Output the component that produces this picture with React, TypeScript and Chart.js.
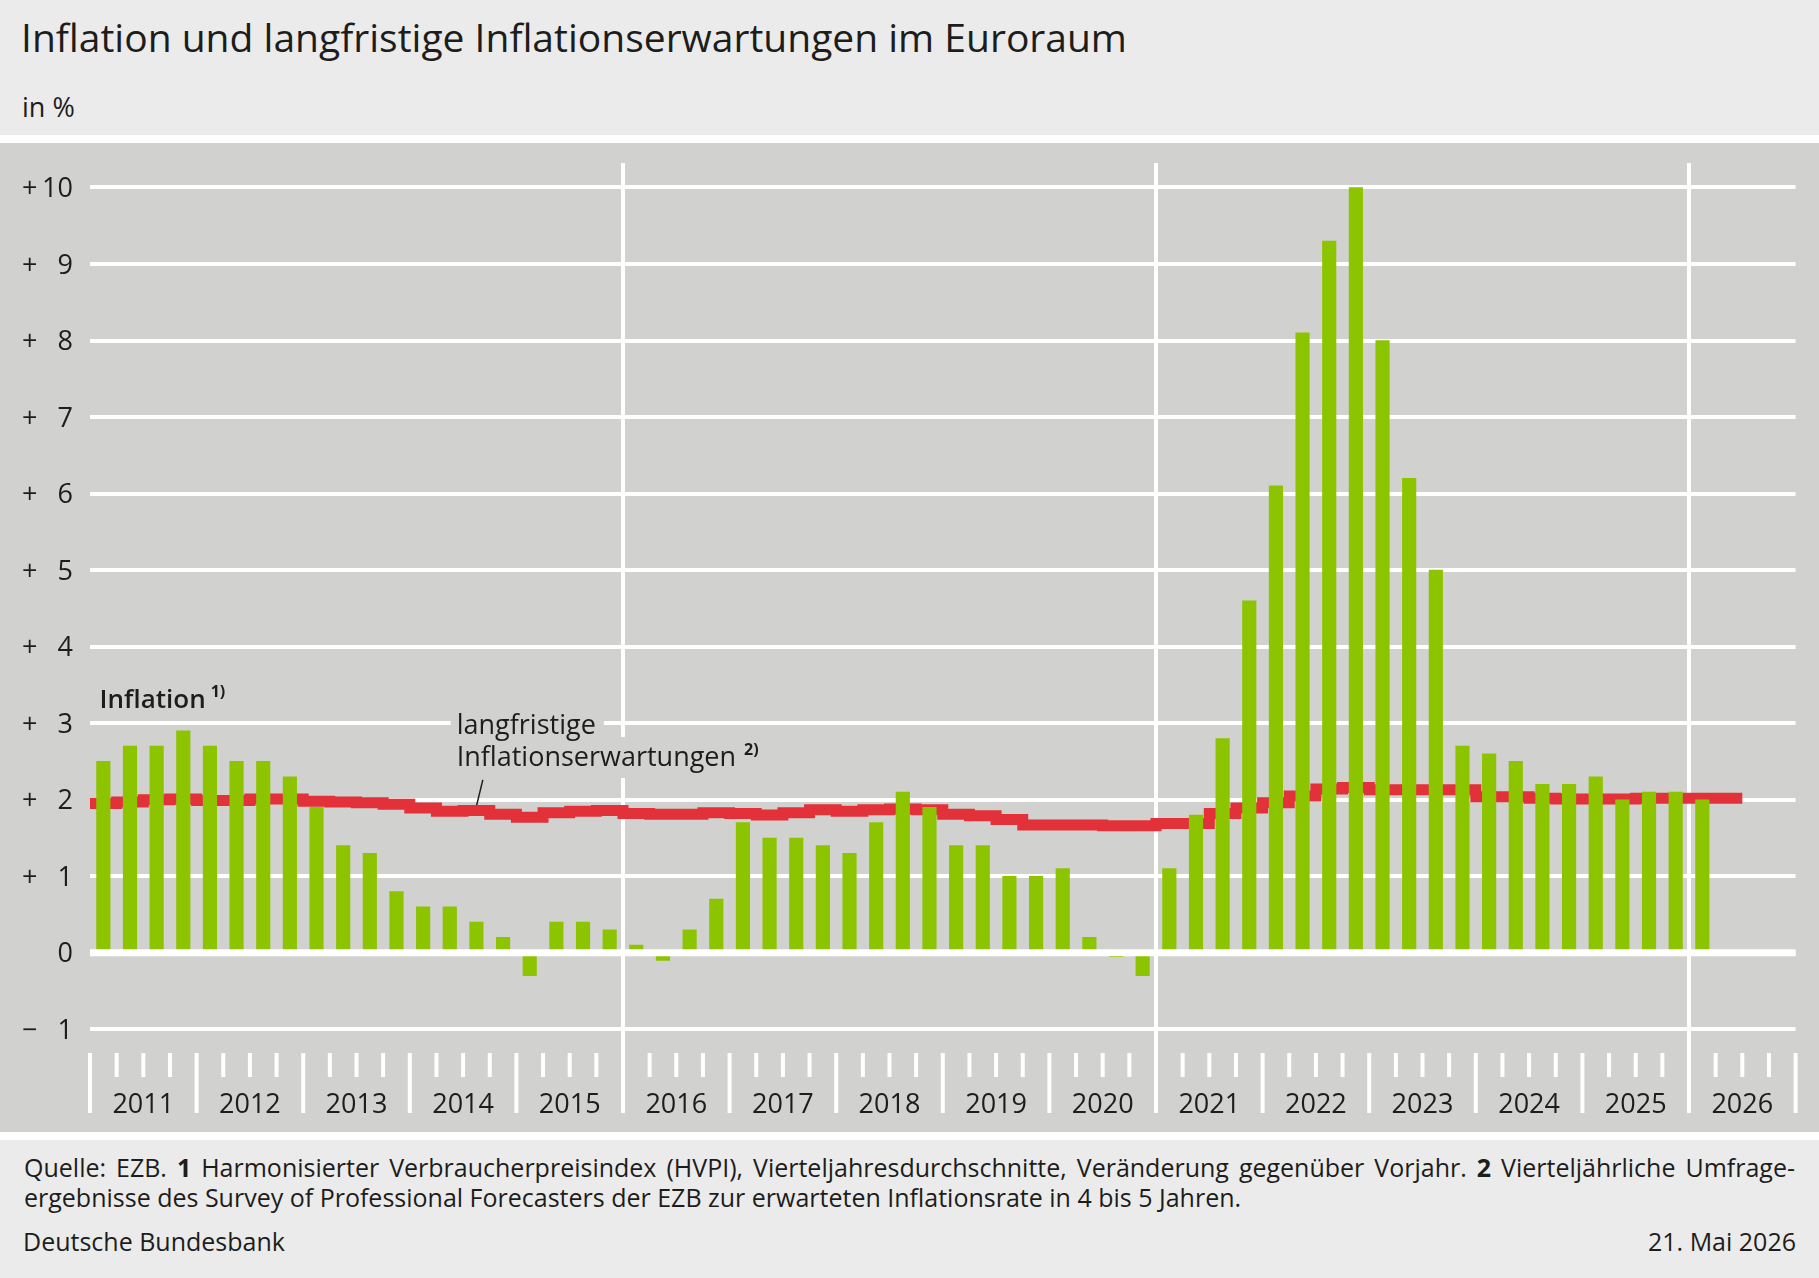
import React, { useEffect, useRef } from 'react';
import { Chart, registerables } from 'chart.js';

Chart.register(...registerables);

// ---------- data ----------
const years = ['2011', '2012', '2013', '2014', '2015', '2016', '2017', '2018', '2019', '2020', '2021', '2022', '2023', '2024', '2025', '2026'];

// HVPI, quarterly averages, yoy change in % (2011 Q1 – 2026 Q1)
const inflation = [
  2.5, 2.7, 2.7, 2.9,
  2.7, 2.5, 2.5, 2.3,
  1.9, 1.4, 1.3, 0.8,
  0.6, 0.6, 0.4, 0.2,
  -0.3, 0.4, 0.4, 0.3,
  0.1, -0.1, 0.3, 0.7,
  1.7, 1.5, 1.5, 1.4,
  1.3, 1.7, 2.1, 1.9,
  1.4, 1.4, 1.0, 1.0,
  1.1, 0.2, -0.05, -0.3,
  1.1, 1.8, 2.8, 4.6,
  6.1, 8.1, 9.3, 10.0,
  8.0, 6.2, 5.0, 2.7,
  2.6, 2.5, 2.2, 2.2,
  2.3, 2.0, 2.1, 2.1,
  2.0,
];

// SPF long-term inflation expectations (2011 Q1 – 2026 Q2)
const expectations = [
  1.95, 1.97, 2.0, 2.01,
  1.99, 1.99, 2.01, 2.01,
  1.98, 1.97, 1.96, 1.94,
  1.89, 1.85, 1.86, 1.81,
  1.77, 1.83, 1.85, 1.86,
  1.82, 1.81, 1.81, 1.83,
  1.82, 1.8, 1.83, 1.87,
  1.85, 1.87, 1.88, 1.87,
  1.81, 1.79, 1.74, 1.67,
  1.67, 1.67, 1.66, 1.66,
  1.69, 1.69, 1.82, 1.89,
  1.96, 2.05, 2.14, 2.16,
  2.13, 2.13, 2.13, 2.13,
  2.04, 2.04, 2.02, 2.01,
  2.01, 2.01, 2.02, 2.02,
  2.02, 2.02,
];

const yTicks = [10, 9, 8, 7, 6, 5, 4, 3, 2, 1, 0, -1];
const majorYears = ['2016', '2021', '2026'];

const TITLE = 'Inflation und langfristige Inflationserwartungen im Euroraum';
const SUBTITLE = 'in %';
const LABEL_INFLATION = 'Inflation';
const LABEL_EXP_1 = 'langfristige';
const LABEL_EXP_2 = 'Inflationserwartungen';
const SOURCE_DATE = '21. Mai 2026';
const PUBLISHER = 'Deutsche Bundesbank';

// ---------- style ----------
const HEADER_BG = '#EBEBEB';
const PANEL_BG = '#D1D1CF';
const GREEN = '#8DC400';
const RED = '#E3313A';
const TEXT = '#1D1D1B';
const FONT = '"Open Sans", "Noto Sans", sans-serif';
const AXIS_FS = 27;
const FOOT_FS = 25;

const Q = years.length * 4; // quarters on x axis

const decorPlugin = {
  id: 'decor',
  beforeDatasetsDraw(chart: any) {
    const { ctx, chartArea, scales } = chart;
    const x = scales.x;
    const bottom = chartArea.bottom;
    ctx.save();
    ctx.fillStyle = '#FFFFFF';
    for (let k = 0; k <= Q; k++) {
      const px = x.getPixelForValue(k);
      const isYear = k % 4 === 0;
      const top = bottom + 13;
      const end = isYear ? bottom + 73 : bottom + 37;
      ctx.fillRect(px - 2, top, 4, end - top);
    }
    majorYears.forEach((yr) => {
      const k = (parseInt(yr, 10) - parseInt(years[0], 10)) * 4;
      const px = x.getPixelForValue(k);
      ctx.fillRect(px - 2, chartArea.top, 4, bottom + 73 - chartArea.top);
    });
    ctx.restore();
  },
  afterDatasetsDraw(chart: any) {
    const { ctx, chartArea, scales } = chart;
    const x = scales.x;
    const y = scales.y;
    ctx.save();
    const y0 = y.getPixelForValue(0);
    ctx.fillStyle = '#FFFFFF';
    ctx.fillRect(chartArea.left, y0 - 3.5, chartArea.right - chartArea.left, 7);

    ctx.fillStyle = TEXT;
    ctx.textBaseline = 'alphabetic';

    ctx.font = `${AXIS_FS}px ${FONT}`;
    yTicks.forEach((v) => {
      const py = y.getPixelForValue(v) + 9.6;
      if (v !== 0) {
        ctx.textAlign = 'left';
        ctx.fillText(v > 0 ? '+' : '\u2212', 22, py);
      }
      ctx.textAlign = 'right';
      ctx.fillText(String(Math.abs(v)), 73, py);
    });

    ctx.textAlign = 'center';
    years.forEach((yr, i) => {
      const px = x.getPixelForValue(i * 4 + 2);
      ctx.fillText(yr, px, chartArea.bottom + 72.7);
    });

    ctx.textAlign = 'left';
    const ix = x.getPixelForValue(0.36);
    const iy = y.getPixelForValue(3.2);
    ctx.font = `600 ${AXIS_FS - 1}px ${FONT}`;
    ctx.fillText(LABEL_INFLATION, ix, iy);
    const iw = ctx.measureText(LABEL_INFLATION).width;
    ctx.font = `bold 16px ${FONT}`;
    ctx.fillText('1)', ix + iw + 5, iy - 11);

    const lx = x.getPixelForValue(13.76);
    const ly1 = y.getPixelForValue(2.86);
    const ly2 = y.getPixelForValue(2.44);
    ctx.font = `${AXIS_FS}px ${FONT}`;
    const w1 = ctx.measureText(LABEL_EXP_1).width;
    const w2 = ctx.measureText(LABEL_EXP_2).width;
    ctx.fillStyle = PANEL_BG;
    ctx.fillRect(lx - 6, ly1 - 31, w1 + 14, ly2 - 29 - (ly1 - 31) + 1);
    ctx.fillRect(lx - 6, ly2 - 29, w2 + 34, 41);
    ctx.fillStyle = TEXT;
    ctx.fillText(LABEL_EXP_1, lx, ly1);
    ctx.fillText(LABEL_EXP_2, lx, ly2);
    ctx.font = `bold 16px ${FONT}`;
    ctx.fillText('2)', lx + w2 + 8, ly2 - 11);

    ctx.strokeStyle = TEXT;
    ctx.lineWidth = 1.5;
    ctx.beginPath();
    ctx.moveTo(x.getPixelForValue(14.74), y.getPixelForValue(2.26));
    ctx.lineTo(x.getPixelForValue(14.51), y.getPixelForValue(1.93));
    ctx.stroke();
    ctx.restore();
  },
};

export default function App() {
  const ref = useRef<HTMLCanvasElement>(null);

  useEffect(() => {
    document.body.style.margin = '0';
    const barData = inflation.map((v, i) => ({ x: i + 0.5, y: v }));
    const lineData = expectations
      .map((v, i) => ({ x: i, y: v }))
      .concat([{ x: expectations.length, y: expectations[expectations.length - 1] }]);

    const chart = new Chart(ref.current as HTMLCanvasElement, {
      type: 'bar',
      data: {
        datasets: [
          {
            type: 'bar',
            label: 'Inflation',
            data: barData as any,
            backgroundColor: GREEN,
            borderWidth: 0,
            barThickness: 13.5,
            order: 1,
          },
          {
            type: 'line',
            label: 'langfristige Inflationserwartungen',
            data: lineData as any,
            borderColor: RED,
            borderWidth: 11,
            stepped: true,
            pointRadius: 0,
            fill: false,
            borderJoinStyle: 'miter',
            borderCapStyle: 'butt',
            order: 2,
          },
        ],
      } as any,
      options: {
        animation: false,
        responsive: false,
        devicePixelRatio: 1,
        layout: { padding: { left: 90, right: 23.4, top: 20, bottom: 92 } },
        plugins: {
          legend: { display: false },
          tooltip: { enabled: false },
        },
        scales: {
          x: {
            type: 'linear',
            min: 0,
            max: Q,
            offset: false,
            display: false,
          },
          y: {
            type: 'linear',
            min: -1.14,
            max: 10.32,
            afterBuildTicks: (scale: any) => {
              scale.ticks = yTicks.map((v) => ({ value: v }));
            },
            grid: { color: '#FFFFFF', lineWidth: 4, drawTicks: false },
            border: { display: false },
            ticks: { display: false },
          },
        },
      } as any,
      plugins: [decorPlugin],
    });
    return () => chart.destroy();
  }, []);

  const abs = (s: React.CSSProperties): React.CSSProperties => ({ position: 'absolute', whiteSpace: 'nowrap', ...s });

  return (
    <div style={{ position: 'relative', width: 1819, height: 1278, background: '#FFFFFF', fontFamily: FONT, color: TEXT, overflow: 'hidden' }}>
      <div style={abs({ left: 0, top: 0, width: 1819, height: 135, background: HEADER_BG })} />
      <div style={abs({ left: 21, top: 17.1, fontSize: 39, fontWeight: 500, lineHeight: '39px' })}>{TITLE}</div>
      <div style={abs({ left: 22, top: 93, fontSize: 27, lineHeight: '27px' })}>{SUBTITLE}</div>
      <div style={abs({ left: 0, top: 143, width: 1819, height: 989, background: PANEL_BG })}>
        <canvas ref={ref} width={1819} height={989} style={{ display: 'block', width: 1819, height: 989 }} />
      </div>
      <div style={abs({ left: 0, top: 1140, width: 1819, height: 138, background: HEADER_BG })} />
      <div style={abs({ left: 24, top: 1155.1, width: 1771, fontSize: FOOT_FS, lineHeight: `${FOOT_FS}px`, textAlign: 'justify', textAlignLast: 'justify' } as any)}>
        Quelle: EZB. <b>1</b> Harmonisierter Verbraucherpreisindex (HVPI), Vierteljahresdurchschnitte, Veränderung gegenüber Vorjahr. <b>2</b> Vierteljährliche Umfrage-
      </div>
      <div style={abs({ left: 24, top: 1185.1, fontSize: FOOT_FS, lineHeight: `${FOOT_FS}px` })}>
        ergebnisse des Survey of Professional Forecasters der EZB zur erwarteten Inflationsrate in 4 bis 5 Jahren.
      </div>
      <div style={abs({ left: 23, top: 1228.8, fontSize: FOOT_FS, lineHeight: `${FOOT_FS}px` })}>{PUBLISHER}</div>
      <div style={abs({ right: 23, top: 1228.8, fontSize: FOOT_FS, lineHeight: `${FOOT_FS}px` })}>{SOURCE_DATE}</div>
    </div>
  );
}
